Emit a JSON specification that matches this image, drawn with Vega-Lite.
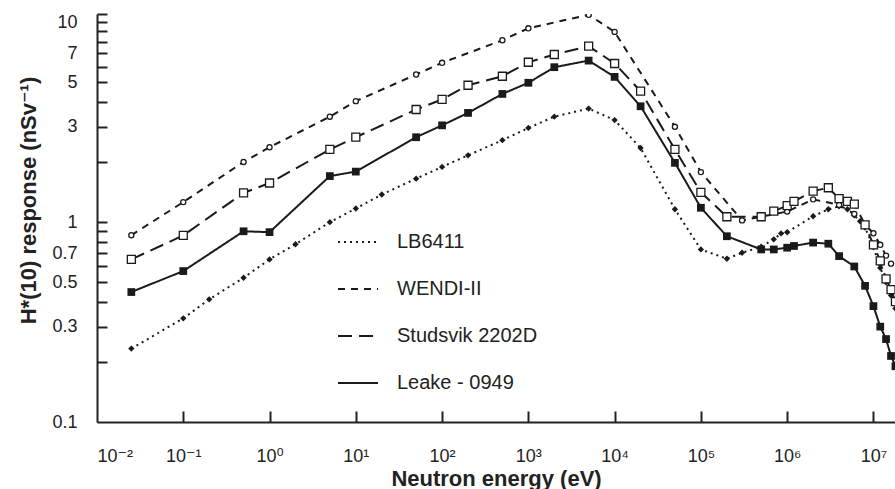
{
  "$schema": "https://vega.github.io/schema/vega-lite/v6.json",
  "width": 798,
  "height": 408,
  "autosize": {"type": "none"},
  "padding": {"left": 97, "top": 14, "right": 0, "bottom": 67},
  "background": "white",
  "config": {
    "view": {"stroke": null},
    "font": "Liberation Sans, Arial, DejaVu Sans, sans-serif"
  },
  "data": {
    "values": [
      {"s": "LB6411", "e": 0.025, "r": 0.233},
      {"s": "LB6411", "e": 0.1, "r": 0.33},
      {"s": "LB6411", "e": 0.2, "r": 0.411},
      {"s": "LB6411", "e": 0.5, "r": 0.527},
      {"s": "LB6411", "e": 1, "r": 0.651},
      {"s": "LB6411", "e": 2, "r": 0.775},
      {"s": "LB6411", "e": 5, "r": 1.0},
      {"s": "LB6411", "e": 10, "r": 1.17},
      {"s": "LB6411", "e": 20, "r": 1.375},
      {"s": "LB6411", "e": 50, "r": 1.65},
      {"s": "LB6411", "e": 100, "r": 1.89},
      {"s": "LB6411", "e": 200, "r": 2.16},
      {"s": "LB6411", "e": 500, "r": 2.57},
      {"s": "LB6411", "e": 1000, "r": 2.96},
      {"s": "LB6411", "e": 2000, "r": 3.37},
      {"s": "LB6411", "e": 5000, "r": 3.7},
      {"s": "LB6411", "e": 10000, "r": 3.24},
      {"s": "LB6411", "e": 20000, "r": 2.35},
      {"s": "LB6411", "e": 50000, "r": 1.16},
      {"s": "LB6411", "e": 100000, "r": 0.73},
      {"s": "LB6411", "e": 200000, "r": 0.656},
      {"s": "LB6411", "e": 300000, "r": 0.703},
      {"s": "LB6411", "e": 500000, "r": 0.753},
      {"s": "LB6411", "e": 700000, "r": 0.82},
      {"s": "LB6411", "e": 850000, "r": 0.878},
      {"s": "LB6411", "e": 1000000, "r": 0.89},
      {"s": "LB6411", "e": 2000000, "r": 1.07},
      {"s": "LB6411", "e": 3000000, "r": 1.16},
      {"s": "LB6411", "e": 4000000, "r": 1.2},
      {"s": "LB6411", "e": 5000000, "r": 1.16},
      {"s": "LB6411", "e": 6000000, "r": 1.08},
      {"s": "LB6411", "e": 7000000, "r": 1.01},
      {"s": "LB6411", "e": 8000000, "r": 0.94},
      {"s": "LB6411", "e": 10000000, "r": 0.75},
      {"s": "LB6411", "e": 12000000, "r": 0.59},
      {"s": "LB6411", "e": 14000000, "r": 0.5},
      {"s": "LB6411", "e": 16000000, "r": 0.43},
      {"s": "LB6411", "e": 18000000, "r": 0.37},

      {"s": "WENDI-II", "e": 0.025, "r": 0.86},
      {"s": "WENDI-II", "e": 0.1, "r": 1.26},
      {"s": "WENDI-II", "e": 0.5, "r": 2.0},
      {"s": "WENDI-II", "e": 1, "r": 2.37},
      {"s": "WENDI-II", "e": 5, "r": 3.37},
      {"s": "WENDI-II", "e": 10, "r": 4.03},
      {"s": "WENDI-II", "e": 50, "r": 5.48},
      {"s": "WENDI-II", "e": 100, "r": 6.27},
      {"s": "WENDI-II", "e": 500, "r": 8.13},
      {"s": "WENDI-II", "e": 1000, "r": 9.33},
      {"s": "WENDI-II", "e": 5000, "r": 10.9},
      {"s": "WENDI-II", "e": 10000, "r": 8.95},
      {"s": "WENDI-II", "e": 50000, "r": 3.0},
      {"s": "WENDI-II", "e": 100000, "r": 1.78},
      {"s": "WENDI-II", "e": 300000, "r": 1.02},
      {"s": "WENDI-II", "e": 1000000, "r": 1.13},
      {"s": "WENDI-II", "e": 2000000, "r": 1.3},
      {"s": "WENDI-II", "e": 4000000, "r": 1.22},
      {"s": "WENDI-II", "e": 6000000, "r": 1.1},
      {"s": "WENDI-II", "e": 8000000, "r": 0.97},
      {"s": "WENDI-II", "e": 10000000, "r": 0.88},
      {"s": "WENDI-II", "e": 12000000, "r": 0.77},
      {"s": "WENDI-II", "e": 14000000, "r": 0.68},
      {"s": "WENDI-II", "e": 16000000, "r": 0.62},

      {"s": "Studsvik 2202D", "e": 0.025, "r": 0.651},
      {"s": "Studsvik 2202D", "e": 0.1, "r": 0.858},
      {"s": "Studsvik 2202D", "e": 0.5, "r": 1.4},
      {"s": "Studsvik 2202D", "e": 1, "r": 1.57},
      {"s": "Studsvik 2202D", "e": 5, "r": 2.31},
      {"s": "Studsvik 2202D", "e": 10, "r": 2.66},
      {"s": "Studsvik 2202D", "e": 50, "r": 3.66},
      {"s": "Studsvik 2202D", "e": 100, "r": 4.11},
      {"s": "Studsvik 2202D", "e": 200, "r": 4.84},
      {"s": "Studsvik 2202D", "e": 500, "r": 5.37},
      {"s": "Studsvik 2202D", "e": 1000, "r": 6.31},
      {"s": "Studsvik 2202D", "e": 2000, "r": 6.9},
      {"s": "Studsvik 2202D", "e": 5000, "r": 7.59},
      {"s": "Studsvik 2202D", "e": 10000, "r": 6.22},
      {"s": "Studsvik 2202D", "e": 20000, "r": 4.52},
      {"s": "Studsvik 2202D", "e": 50000, "r": 2.31},
      {"s": "Studsvik 2202D", "e": 100000, "r": 1.41},
      {"s": "Studsvik 2202D", "e": 200000, "r": 1.064},
      {"s": "Studsvik 2202D", "e": 500000, "r": 1.064},
      {"s": "Studsvik 2202D", "e": 700000, "r": 1.135},
      {"s": "Studsvik 2202D", "e": 1000000, "r": 1.21},
      {"s": "Studsvik 2202D", "e": 1200000, "r": 1.27},
      {"s": "Studsvik 2202D", "e": 2000000, "r": 1.43},
      {"s": "Studsvik 2202D", "e": 3000000, "r": 1.486},
      {"s": "Studsvik 2202D", "e": 4000000, "r": 1.31},
      {"s": "Studsvik 2202D", "e": 5000000, "r": 1.27},
      {"s": "Studsvik 2202D", "e": 6000000, "r": 1.23},
      {"s": "Studsvik 2202D", "e": 8000000, "r": 0.97},
      {"s": "Studsvik 2202D", "e": 10000000, "r": 0.77},
      {"s": "Studsvik 2202D", "e": 12000000, "r": 0.64},
      {"s": "Studsvik 2202D", "e": 14000000, "r": 0.52},
      {"s": "Studsvik 2202D", "e": 16000000, "r": 0.46},
      {"s": "Studsvik 2202D", "e": 18000000, "r": 0.4},

      {"s": "Leake - 0949", "e": 0.025, "r": 0.447},
      {"s": "Leake - 0949", "e": 0.1, "r": 0.569},
      {"s": "Leake - 0949", "e": 0.5, "r": 0.9},
      {"s": "Leake - 0949", "e": 1, "r": 0.891},
      {"s": "Leake - 0949", "e": 5, "r": 1.7},
      {"s": "Leake - 0949", "e": 10, "r": 1.79},
      {"s": "Leake - 0949", "e": 50, "r": 2.66},
      {"s": "Leake - 0949", "e": 100, "r": 3.05},
      {"s": "Leake - 0949", "e": 200, "r": 3.52},
      {"s": "Leake - 0949", "e": 500, "r": 4.38},
      {"s": "Leake - 0949", "e": 1000, "r": 4.98},
      {"s": "Leake - 0949", "e": 2000, "r": 5.96},
      {"s": "Leake - 0949", "e": 5000, "r": 6.43},
      {"s": "Leake - 0949", "e": 10000, "r": 5.33},
      {"s": "Leake - 0949", "e": 20000, "r": 3.8},
      {"s": "Leake - 0949", "e": 50000, "r": 1.98},
      {"s": "Leake - 0949", "e": 100000, "r": 1.18},
      {"s": "Leake - 0949", "e": 200000, "r": 0.85},
      {"s": "Leake - 0949", "e": 500000, "r": 0.73},
      {"s": "Leake - 0949", "e": 700000, "r": 0.73},
      {"s": "Leake - 0949", "e": 1000000, "r": 0.745},
      {"s": "Leake - 0949", "e": 1200000, "r": 0.76},
      {"s": "Leake - 0949", "e": 2000000, "r": 0.79},
      {"s": "Leake - 0949", "e": 3000000, "r": 0.78},
      {"s": "Leake - 0949", "e": 4000000, "r": 0.676},
      {"s": "Leake - 0949", "e": 6000000, "r": 0.6},
      {"s": "Leake - 0949", "e": 8000000, "r": 0.48},
      {"s": "Leake - 0949", "e": 10000000, "r": 0.38},
      {"s": "Leake - 0949", "e": 12000000, "r": 0.3},
      {"s": "Leake - 0949", "e": 14000000, "r": 0.26},
      {"s": "Leake - 0949", "e": 16000000, "r": 0.214},
      {"s": "Leake - 0949", "e": 18000000, "r": 0.19}
    ]
  },
  "resolve": {"axis": {"x": "independent", "y": "independent"}},
  "layer": [
    {
      "mark": {"type": "line", "strokeWidth": 2, "color": "#1a1a1a", "clip": true},
      "encoding": {
        "x": {
          "field": "e",
          "type": "quantitative",
          "scale": {"type": "log", "domain": [0.01, 17783000], "nice": false},
          "axis": {
            "orient": "bottom",
            "values": [0.01, 0.1, 1, 10, 100, 1000, 10000, 100000, 1000000, 10000000],
            "labelExpr": "'10' + ['⁻²','⁻¹','⁰','¹','²','³','⁴','⁵','⁶','⁷'][round(log(datum.value)/LN10)+2]",
            "labelOverlap": false,
            "grid": false,
            "ticks": false,
            "domainColor": "#222",
            "domainWidth": 2,
            "labelFontSize": 18,
            "labelColor": "#222",
            "labelPadding": 25,
            "title": "Neutron energy (eV)",
            "titleFontSize": 22,
            "titleFontWeight": "bold",
            "titleColor": "#222",
            "titleBaseline": "alphabetic",
            "titleY": 63
          }
        },
        "y": {
          "field": "r",
          "type": "quantitative",
          "scale": {"type": "log", "domain": [0.1, 11], "nice": false},
          "axis": {
            "orient": "left",
            "values": [0.1, 0.3, 0.5, 0.7, 1, 3, 5, 7, 10],
            "labelExpr": "'' + datum.value",
            "labelOverlap": false,
            "grid": false,
            "ticks": false,
            "domainColor": "#222",
            "domainWidth": 2,
            "labelFontSize": 18,
            "labelColor": "#222",
            "labelPadding": 20,
            "title": "H*(10) response (nSv⁻¹)",
            "titleFontSize": 22,
            "titleFontWeight": "bold",
            "titleColor": "#222",
            "titleAngle": 270,
            "titleAlign": "center",
            "titleBaseline": "middle",
            "titleX": -69,
            "titleY": 186
          }
        },
        "strokeDash": {
          "field": "s",
          "type": "nominal",
          "scale": {
            "domain": ["LB6411", "WENDI-II", "Studsvik 2202D", "Leake - 0949"],
            "range": [[2, 4], [7, 6], [14, 7], [1, 0]]
          },
          "legend": {
            "orient": "none",
            "legendX": 240,
            "legendY": 207,
            "title": null,
            "symbolType": "stroke",
            "symbolSize": 1600,
            "symbolStrokeWidth": 2,
            "symbolStrokeColor": "#1a1a1a",
            "labelFontSize": 20,
            "labelColor": "#222",
            "labelOffset": 18,
            "rowPadding": 16,
            "padding": 0
          }
        }
      }
    },
    {
      "transform": [{"filter": "datum.s == 'LB6411'"}],
      "mark": {"type": "point", "shape": "diamond", "filled": true, "color": "#1a1a1a", "size": 40, "opacity": 1, "clip": true},
      "encoding": {
        "x": {
          "field": "e",
          "type": "quantitative",
          "scale": {"type": "log", "domain": [0.01, 17783000], "nice": false},
          "axis": {
            "orient": "top",
            "offset": -408,
            "values": [0.1, 1, 10, 100, 1000, 10000, 100000, 1000000, 10000000],
            "labels": false,
            "domain": false,
            "grid": false,
            "title": null,
            "ticks": true,
            "tickSize": 11,
            "tickWidth": 2,
            "tickColor": "#222"
          }
        },
        "y": {
          "field": "r",
          "type": "quantitative",
          "scale": {"type": "log", "domain": [0.1, 11], "nice": false},
          "axis": {
            "orient": "right",
            "offset": -798,
            "values": [0.2, 0.3, 0.4, 0.5, 0.6, 0.7, 0.8, 0.9, 1, 2, 3, 4, 5, 6, 7, 8, 9, 10, 11],
            "labels": false,
            "domain": false,
            "grid": false,
            "title": null,
            "ticks": true,
            "tickSize": 10,
            "tickWidth": 2,
            "tickColor": "#222"
          }
        }
      }
    },
    {
      "transform": [{"filter": "datum.s == 'WENDI-II'"}],
      "mark": {"type": "point", "shape": "circle", "filled": true, "fill": "white", "stroke": "#1a1a1a", "strokeWidth": 1.3, "size": 26, "opacity": 1, "clip": true},
      "encoding": {
        "x": {"field": "e", "type": "quantitative", "axis": null},
        "y": {"field": "r", "type": "quantitative", "axis": null}
      }
    },
    {
      "transform": [{"filter": "datum.s == 'Studsvik 2202D'"}],
      "mark": {"type": "point", "shape": "square", "filled": true, "fill": "white", "stroke": "#1a1a1a", "strokeWidth": 1.3, "size": 64, "opacity": 1, "clip": true},
      "encoding": {
        "x": {"field": "e", "type": "quantitative", "axis": null},
        "y": {"field": "r", "type": "quantitative", "axis": null}
      }
    },
    {
      "transform": [{"filter": "datum.s == 'Leake - 0949'"}],
      "mark": {"type": "point", "shape": "square", "filled": true, "color": "#1a1a1a", "size": 60, "opacity": 1, "clip": true},
      "encoding": {
        "x": {"field": "e", "type": "quantitative", "axis": null},
        "y": {"field": "r", "type": "quantitative", "axis": null}
      }
    }
  ]
}
